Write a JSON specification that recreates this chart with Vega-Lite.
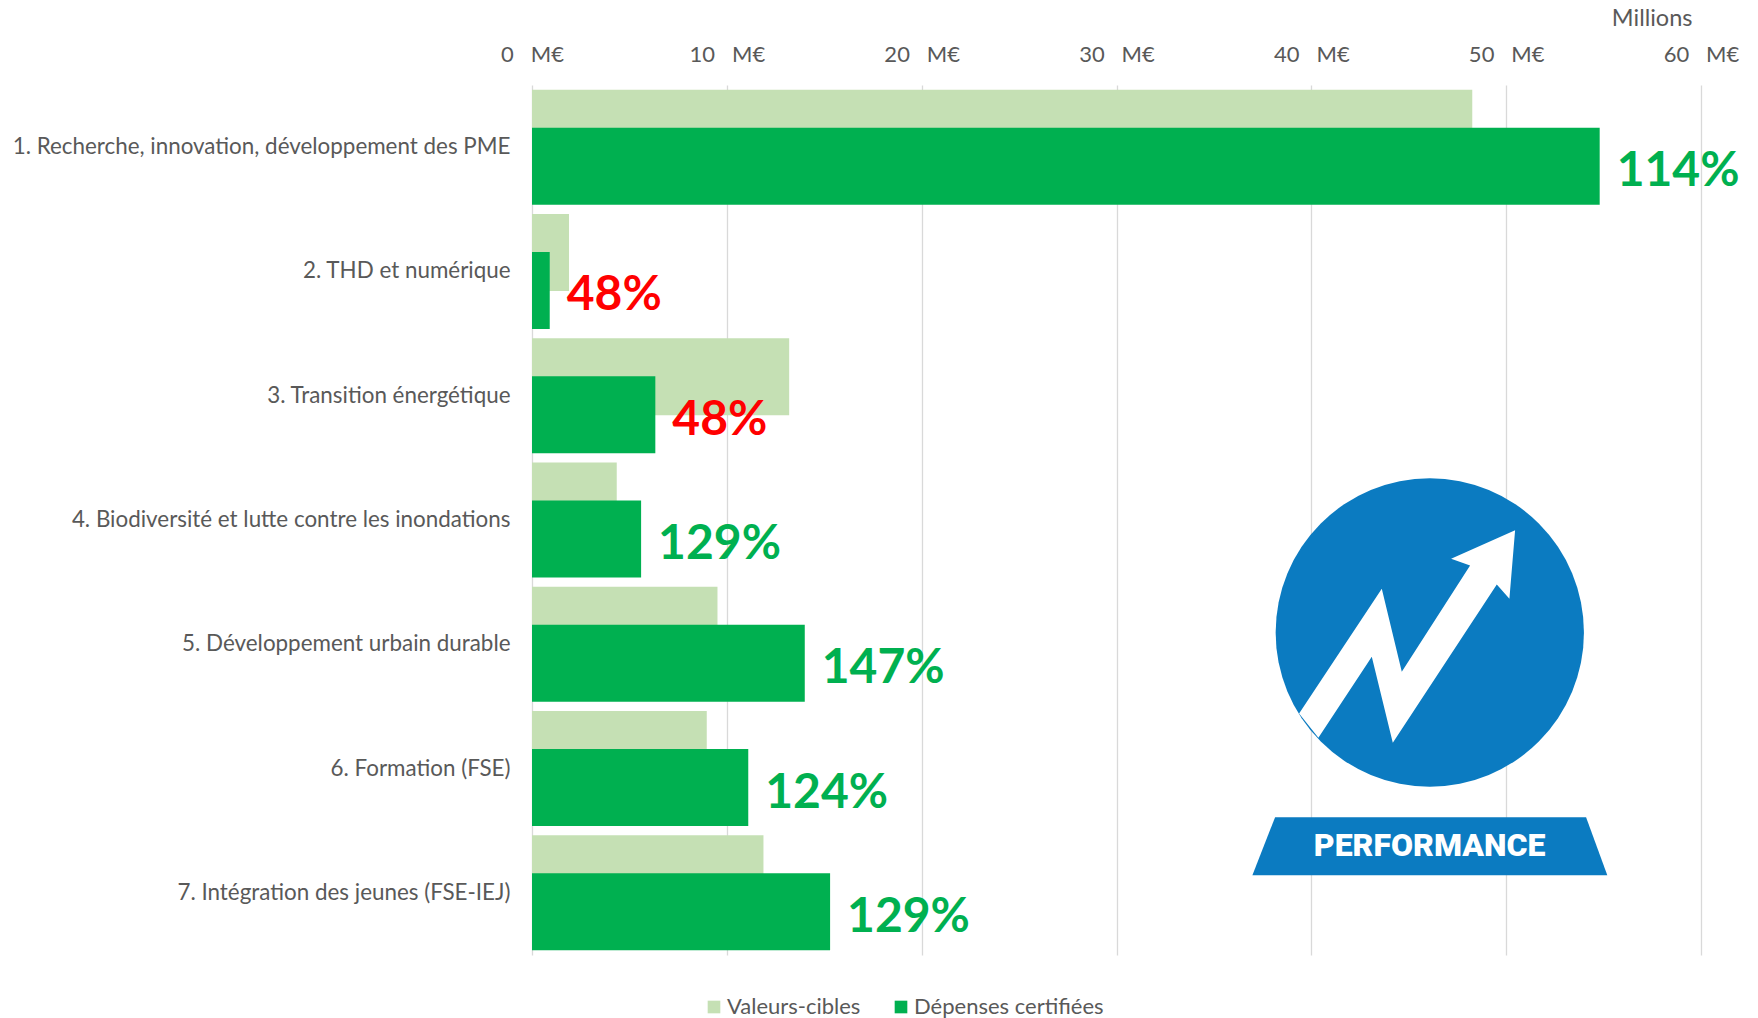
{
  "$schema": "https://vega.github.io/schema/vega-lite/v6.json",
  "width": 1169,
  "height": 870,
  "autosize": {"type": "none"},
  "padding": {"left": 532, "top": 85, "right": 57, "bottom": 63},
  "background": "white",
  "config": {"view": {"stroke": null}, "font": "Lato"},
  "data": {
    "values": [
      {"axe": "1. Recherche, innovation, développement des PME", "serie": "Valeurs-cibles", "montant": 48.26},
      {"axe": "1. Recherche, innovation, développement des PME", "serie": "Dépenses certifiées", "montant": 54.8, "taux": "114%", "atteint": true},
      {"axe": "2. THD et numérique", "serie": "Valeurs-cibles", "montant": 1.9},
      {"axe": "2. THD et numérique", "serie": "Dépenses certifiées", "montant": 0.91, "taux": "48%", "atteint": false},
      {"axe": "3. Transition énergétique", "serie": "Valeurs-cibles", "montant": 13.2},
      {"axe": "3. Transition énergétique", "serie": "Dépenses certifiées", "montant": 6.33, "taux": "48%", "atteint": false},
      {"axe": "4. Biodiversité et lutte contre les inondations", "serie": "Valeurs-cibles", "montant": 4.35},
      {"axe": "4. Biodiversité et lutte contre les inondations", "serie": "Dépenses certifiées", "montant": 5.6, "taux": "129%", "atteint": true},
      {"axe": "5. Développement urbain durable", "serie": "Valeurs-cibles", "montant": 9.52},
      {"axe": "5. Développement urbain durable", "serie": "Dépenses certifiées", "montant": 14.0, "taux": "147%", "atteint": true},
      {"axe": "6. Formation (FSE)", "serie": "Valeurs-cibles", "montant": 8.97},
      {"axe": "6. Formation (FSE)", "serie": "Dépenses certifiées", "montant": 11.1, "taux": "124%", "atteint": true},
      {"axe": "7. Intégration des jeunes (FSE-IEJ)", "serie": "Valeurs-cibles", "montant": 11.88},
      {"axe": "7. Intégration des jeunes (FSE-IEJ)", "serie": "Dépenses certifiées", "montant": 15.3, "taux": "129%", "atteint": true}
    ]
  },
  "layer": [
    {
      "transform": [{"filter": "datum.serie === 'Valeurs-cibles'"}],
      "mark": {"type": "bar", "height": 77, "yOffset": -19},
      "encoding": {
        "y": {
          "field": "axe",
          "type": "nominal",
          "sort": null,
          "scale": {"paddingInner": 0, "paddingOuter": 0},
          "title": null,
          "axis": {
            "orient": "left",
            "ticks": false,
            "domain": false,
            "labelPadding": 22,
            "labelFontSize": 22.4,
            "labelColor": "#595959",
            "labelLimit": 700,
            "labelFont": "Lato"
          }
        },
        "x": {
          "field": "montant",
          "type": "quantitative",
          "scale": {"domain": [0, 60], "nice": false},
          "title": "Millions",
          "axis": {
            "orient": "top",
            "values": [0, 10, 20, 30, 40, 50, 60],
            "ticks": false,
            "domain": false,
            "grid": true,
            "gridColor": "#D9D9D9",
            "gridWidth": 1.3,
            "labelExpr": "datum.value + '\u00a0\u00a0\u00a0M€'",
            "labelFontSize": 22,
            "labelFont": "Lato",
            "labelColor": "#595959",
            "labelPadding": 19,
            "labelFlush": false,
            "titleFontSize": 23.5,
            "titleFont": "Lato",
            "titleFontWeight": "normal",
            "titleColor": "#595959",
            "titleAnchor": "end",
            "titleAlign": "right",
            "titleBaseline": "middle",
            "titleX": 1160,
            "titleY": -67
          }
        },
        "color": {
          "field": "serie",
          "type": "nominal",
          "scale": {"domain": ["Valeurs-cibles", "Dépenses certifiées"], "range": ["#C5E0B4", "#00B050"]},
          "legend": {
            "orient": "none",
            "legendX": 171,
            "legendY": 911,
            "direction": "horizontal",
            "title": null,
            "symbolType": "square",
            "symbolSize": 160,
            "symbolStrokeWidth": 0,
            "labelFontSize": 22,
            "labelFont": "Lato",
            "labelColor": "#595959",
            "labelOffset": 2,
            "labelLimit": 400,
            "columnPadding": 29
          }
        }
      }
    },
    {
      "transform": [{"filter": "datum.serie === 'Dépenses certifiées'"}],
      "mark": {"type": "bar", "height": 77, "yOffset": 19},
      "encoding": {
        "y": {"field": "axe", "type": "nominal", "sort": null},
        "x": {"field": "montant", "type": "quantitative"},
        "color": {"field": "serie", "type": "nominal"}
      }
    },
    {
      "transform": [{"filter": "datum.serie === 'Dépenses certifiées'"}],
      "mark": {"type": "text", "align": "left", "baseline": "middle", "dx": 17, "yOffset": 19, "dy": 6, "fontSize": 48, "fontWeight": "bold", "font": "Lato"},
      "encoding": {
        "y": {"field": "axe", "type": "nominal", "sort": null},
        "x": {"field": "montant", "type": "quantitative"},
        "text": {"field": "taux"},
        "color": {"condition": {"test": "datum.atteint", "value": "#00B050"}, "value": "#FF0000"}
      }
    },
    {
      "transform": [{"filter": "datum.serie === 'Valeurs-cibles' && datum.axe === '5. Développement urbain durable'"}],
      "mark": {
        "type": "point",
        "filled": true,
        "opacity": 1,
        "size": 95050,
        "fill": "#0B7BC1",
        "shape": "circle",
        "yOffset": -11.8
      },
      "encoding": {
        "x": {"datum": 46.08},
        "y": {"field": "axe", "type": "nominal", "sort": null}
      }
    },
    {
      "transform": [{"filter": "datum.serie === 'Valeurs-cibles' && datum.axe === '5. Développement urbain durable'"}],
      "mark": {
        "type": "point",
        "filled": true,
        "opacity": 1,
        "size": 102400,
        "fill": "#FFFFFF",
        "shape": "M-0.8156,0.4325L-0.2988,-0.3469L-0.1738,0.1719L0.2531,-0.4925L0.1344,-0.5344L0.5344,-0.7131L0.4988,-0.2844L0.42,-0.3738L-0.23,0.6156L-0.3613,0.0781L-0.695,0.5844Z"
      },
      "encoding": {
        "x": {"datum": 46.07},
        "y": {"field": "axe", "type": "nominal", "sort": null}
      }
    },
    {
      "transform": [{"filter": "datum.serie === 'Valeurs-cibles' && datum.axe === '5. Développement urbain durable'"}],
      "mark": {
        "type": "point",
        "filled": true,
        "opacity": 1,
        "size": 102400,
        "fill": "#0B7BC1",
        "shape": "M-0.9656,1.0806L0.978,1.0806L1.1106,1.4431L-1.1075,1.4431Z"
      },
      "encoding": {
        "x": {"datum": 46.07},
        "y": {"field": "axe", "type": "nominal", "sort": null}
      }
    },
    {
      "data": {"values": [{"logo": "PERFORMANCE", "axe": "5. Développement urbain durable"}]},
      "mark": {"type": "text", "align": "center", "baseline": "middle", "dy": 202, "fontSize": 32, "fontWeight": 900, "font": "Roboto", "color": "#FFFFFF"},
      "encoding": {
        "x": {"datum": 46.07},
        "y": {"field": "axe", "type": "nominal", "sort": null},
        "text": {"field": "logo"}
      }
    }
  ]
}
